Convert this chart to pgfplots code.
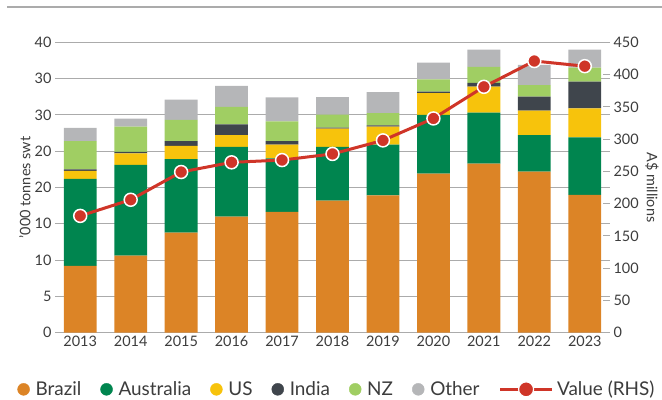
\documentclass[border=0pt]{standalone}
\usepackage{fontspec}
\setmainfont{Lato}
\usepackage{pgfplots}
\usepackage{pgfplotstable}
\pgfplotsset{compat=1.18}
\definecolor{brazil}{HTML}{DC8426}
\definecolor{austr}{HTML}{00854F}
\definecolor{usc}{HTML}{F7C30C}
\definecolor{india}{HTML}{3F454C}
\definecolor{nz}{HTML}{A0CE63}
\definecolor{other}{HTML}{B5B6B8}
\definecolor{valred}{HTML}{CF3528}
\definecolor{txt}{HTML}{3C3C3C}
\definecolor{gridc}{HTML}{ABABAB}

\pgfplotstableread{
x B A US IN NZ O
0 9.2 12.0 1.1 0.2 3.9 1.8
1 10.6 12.5 1.6 0.2 3.5 1.1
2 13.8 10.1 1.85 0.65 2.9 2.8
3 16.0 9.6 1.6 1.5 2.4 2.9
4 16.65 7.35 1.9 0.5 2.7 3.3
5 18.2 7.4 2.5 0.15 1.8 2.4
6 18.9 7.0 2.5 0.15 1.7 2.9
7 21.9 8.1 3.0 0.2 1.7 2.3
8 23.3 7.0 3.6 0.5 2.2 2.4
9 22.2 5.0 3.4 1.9 1.6 2.8
10 19.0 7.9 4.0 3.7 1.9 2.5
}\bars

\pgfplotstableread{
x V
0 181
1 206
2 249
3 264
4 267.5
5 277
6 298
7 332
8 381
9 421
10 413
}\vals

\begin{document}
\begin{tikzpicture}[font=\fontsize{14.5}{17}\selectfont, text=txt]
\useasboundingbox (-55bp,-67.3bp) rectangle (607bp,332.7bp);
\draw[gridc, line width=1.2bp] (-48bp,325.7bp) -- (607bp,325.7bp);
\begin{axis}[
  scale only axis, width=555bp, height=290.4bp,
  at={(0,0)}, anchor=south west,
  xmin=-0.5, xmax=10.5, ymin=0, ymax=40,
  ybar stacked, bar width=0.65,
  axis line style={draw=none},
  major tick style={draw=none},
  xtick={0,...,10},
  xticklabels={2013,2014,2015,2016,2017,2018,2019,2020,2021,2022,2023},
  ytick={0,5,...,40},
  yticklabels={0,5,10,10,20,20,30,30,40},
  ymajorgrids, grid style={gridc, line width=1.1bp},
  ytick pos=left, xtick pos=bottom,
  every axis y label/.style={at={(axis description cs:-0.054,0.5)}, anchor=center, rotate=90},
  ylabel={'000 tonnes swt},
]
\addplot[fill=brazil, draw=none] table[x=x, y=B] {\bars};
\addplot[fill=austr, draw=none] table[x=x, y=A] {\bars};
\addplot[fill=usc, draw=none] table[x=x, y=US] {\bars};
\addplot[fill=india, draw=none] table[x=x, y=IN] {\bars};
\addplot[fill=nz, draw=none] table[x=x, y=NZ] {\bars};
\addplot[fill=other, draw=none] table[x=x, y=O] {\bars};
\end{axis}
\begin{axis}[
  scale only axis, width=555bp, height=290.4bp,
  at={(0,0)}, anchor=south west,
  xmin=-0.5, xmax=10.5, ymin=0, ymax=450,
  axis x line=none, axis y line*=right,
  y axis line style={draw=none},
  ytick={0,50,...,450},
  tick align=inside, major tick length=7bp,
  tick style={gridc, line width=1.1bp},
  /pgf/number format/assume math mode=true,
  every axis y label/.style={at={(axis description cs:1.0757,0.5)}, anchor=center, rotate=-90},
  ylabel={A\$ millions},
  legend columns=7,
  legend style={at={(axis description cs:0.508,-0.195)}, anchor=center, draw=none, fill=none,
    /tikz/every even column/.append style={column sep=17bp},
    font=\fontsize{19}{22}\selectfont, text=txt},
]
\addlegendimage{legend image code/.code={\fill[brazil] (6bp,0bp) circle (6bp); \path[draw=none] (0bp,0bp) (16bp,0bp);}}
\addlegendimage{legend image code/.code={\fill[austr] (6bp,0bp) circle (6bp); \path[draw=none] (0bp,0bp) (16bp,0bp);}}
\addlegendimage{legend image code/.code={\fill[usc] (6bp,0bp) circle (6bp); \path[draw=none] (0bp,0bp) (16bp,0bp);}}
\addlegendimage{legend image code/.code={\fill[india] (6bp,0bp) circle (6bp); \path[draw=none] (0bp,0bp) (16bp,0bp);}}
\addlegendimage{legend image code/.code={\fill[nz] (6bp,0bp) circle (6bp); \path[draw=none] (0bp,0bp) (16bp,0bp);}}
\addlegendimage{legend image code/.code={\fill[other] (6bp,0bp) circle (6bp); \path[draw=none] (0bp,0bp) (16bp,0bp);}}
\addplot[valred, line width=3bp, mark=*, mark size=6.5bp,
  mark options={fill=valred, draw=white, line width=1.5bp},
  legend image code/.code={\draw[valred, line width=3bp] (0bp,0bp) -- (52bp,0bp);
    \filldraw[fill=valred, draw=white, line width=1.2bp] (26bp,0bp) circle (7.5bp);
    \path[draw=none] (0bp,0bp) (55bp,0bp);}]
  table[x=x, y=V] {\vals};
\legend{Brazil, Australia, US, India, NZ, Other, Value (RHS)}
\end{axis}
\end{tikzpicture}
\end{document}
